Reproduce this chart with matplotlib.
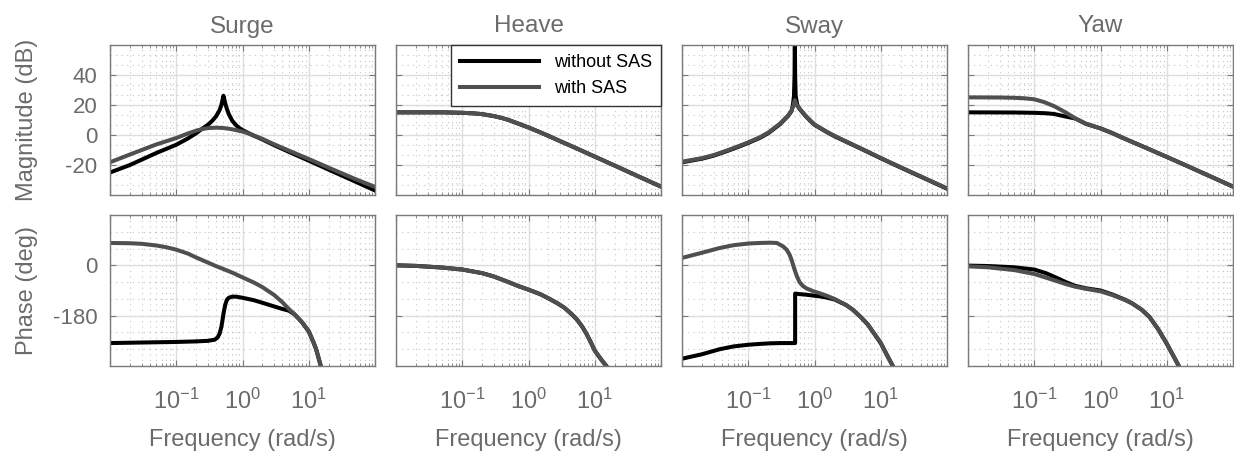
import matplotlib
matplotlib.use('Agg')
import matplotlib.pyplot as plt
from matplotlib.ticker import (FixedLocator, FixedFormatter, LogLocator,
                               MultipleLocator, NullFormatter)

plt.rcParams['font.family'] = ['Liberation Sans', 'DejaVu Sans']
plt.rcParams['axes.unicode_minus'] = False

TITLES = ['Surge', 'Heave', 'Sway', 'Yaw']
LABELS = ['without SAS', 'with SAS']

# ---- Surge ----
surge_mag_wo_w = [0.01, 0.02, 0.05, 0.1, 0.15, 0.2, 0.25, 0.3, 0.35, 0.4, 0.45,
                  0.48, 0.5, 0.515, 0.53, 0.55, 0.58, 0.62, 0.7, 0.8, 0.9, 1.0,
                  1.2, 1.41, 2, 3, 5, 10, 20, 50, 100]
surge_mag_wo = [-25, -20, -12, -6.5, -2.3, 1.2, 4.4, 6.8, 9.5, 12.5, 16.5,
                20, 23.5, 26.2, 24, 21, 17.5, 14, 9.5, 6.5, 4.6, 3.3,
                1.5, 0, -3, -6.8, -11.2, -17.1, -23.1, -31, -37]
surge_mag_w_w = [0.01, 0.02, 0.05, 0.1, 0.15, 0.2, 0.25, 0.3, 0.4, 0.5, 0.6,
                 0.7, 0.85, 1.0, 1.2, 1.41, 2, 3, 5, 10, 20, 50, 100]
surge_mag_w = [-18.2, -13, -6.3, -2, 1, 2.9, 4, 4.6, 4.9, 4.7, 4.3,
               3.8, 3, 2.3, 1.2, 0, -2.6, -6.2, -10.4, -16, -21.8, -29.3, -34.6]
surge_ph_wo_w = [0.01, 0.03, 0.1, 0.2, 0.3, 0.38, 0.42, 0.45, 0.48, 0.5, 0.52,
                 0.55, 0.58, 0.62, 0.7, 0.8, 1, 1.5, 2, 3, 4, 5, 6, 7, 8, 10,
                 12, 13, 15.2, 17]
surge_ph_wo = [-278, -276, -274, -272, -270, -266, -258, -245, -220, -195, -168,
               -140, -124, -116, -112, -112, -116, -125, -134, -147, -156, -162,
               -174, -190, -205, -236, -280, -302, -360, -400]
surge_ph_w_w = [0.01, 0.02, 0.03, 0.05, 0.07, 0.1, 0.15, 0.2, 0.3, 0.4, 0.5,
                0.7, 1, 1.5, 2, 3, 4, 5, 6, 7, 8, 10, 12, 13, 15.2, 17]
surge_ph_w = [80, 79, 77, 71, 65, 56, 42, 28, 10, -3, -12,
              -26, -43, -62, -78, -106, -132, -156, -173, -190, -205, -236,
              -280, -302, -360, -400]

# ---- Heave (both curves coincide) ----
heave_mag_w = [0.01, 0.05, 0.1, 0.15, 0.2, 0.3, 0.4, 0.5, 0.7, 1, 1.5, 2, 3,
               5, 10, 20, 50, 100]
heave_mag = [15.1, 15.1, 14.8, 14.4, 13.9, 12.6, 11.3, 10, 7.6, 5, 1.8, -0.6,
             -4.1, -8.4, -14.4, -20.4, -28.4, -34.4]
heave_ph_w = [0.01, 0.02, 0.05, 0.1, 0.2, 0.3, 0.5, 0.7, 1, 1.5, 2, 2.7, 3.5,
              4.5, 5.4, 6.5, 7.5, 8.6, 10, 11.5, 13, 15, 17]
heave_ph = [0, -2, -8, -15, -28, -40, -60, -74, -87, -103, -118, -135, -152,
            -175, -194, -220, -245, -272, -305, -325, -342, -360, -390]

# ---- Sway ----
sway_mag_w_w = [0.01, 0.02, 0.03, 0.05, 0.07, 0.1, 0.15, 0.2, 0.3, 0.4, 0.45,
                0.48, 0.5, 0.505, 0.51, 0.53, 0.56, 0.6, 0.72, 0.85, 1, 1.5,
                2, 5, 10, 20, 50, 100]
sway_mag_w = [-17.8, -15.4, -13.4, -10, -7.6, -4.9, -1.5, 1.6, 7.5, 13, 16.3,
              19.5, 22.5, 23.3, 22.5, 20.5, 19, 17.3, 13.3, 10, 7, 2.4,
              -0.6, -8.9, -15.3, -21.5, -29.5, -35.6]
sway_mag_wo_w = [0.01, 0.02, 0.03, 0.05, 0.07, 0.1, 0.15, 0.2, 0.3, 0.4, 0.45,
                 0.47, 0.49, 0.5, 0.505, 0.51, 0.52, 0.55, 0.6, 0.72, 0.85, 1,
                 1.5, 2, 5, 10, 20, 50, 100]
sway_mag_wo = [-18.2, -15.8, -13.8, -10.4, -8, -5.3, -1.9, 1.2, 7.1, 12.7, 16,
               19.6, 26, 40, 70, 40, 26, 20, 17.2, 13, 9.8, 6.8,
               2.2, -0.8, -9.1, -15.5, -21.7, -29.7, -35.8]
sway_ph_w_w = [0.01, 0.02, 0.037, 0.06, 0.1, 0.15, 0.21, 0.27, 0.334, 0.38,
               0.421, 0.45, 0.5, 0.54, 0.595, 0.67, 0.75, 0.944, 1.2, 1.5, 2,
               3, 3.8, 5, 6.4, 8, 10, 13, 15.2, 17]
sway_ph_w = [26.5, 45, 62, 72, 78, 80, 81, 80, 68, 56,
             38, 20, -15, -38, -60, -74, -82, -92, -100, -108, -120,
             -142, -159, -185, -212, -245, -278, -330, -360, -390]
sway_ph_wo_w = [0.01, 0.02, 0.037, 0.06, 0.1, 0.15, 0.21, 0.3, 0.51, 0.51,
                0.6, 0.75, 0.944, 1.2, 1.5, 2, 3, 3.8, 5, 6.4, 8, 10, 13, 15.2,
                17]
sway_ph_wo = [-334, -318, -300, -290, -284, -281, -279, -278, -278, -101,
              -103, -105, -108, -111, -115, -122, -142, -159, -185, -212, -245,
              -278, -330, -360, -390]

# ---- Yaw ----
yaw_mag_w_w = [0.01, 0.03, 0.05, 0.07, 0.1, 0.14, 0.2, 0.3, 0.415, 0.6, 1, 1.5,
               2, 3, 5, 10, 20, 50, 100]
yaw_mag_w = [25.1, 25, 24.8, 24.5, 23.8, 22, 19.2, 15, 11.1, 7.5, 4.4, 1.3,
             -1.2, -4.6, -8.8, -14.6, -20.5, -28.4, -34.4]
yaw_mag_wo_w = [0.01, 0.05, 0.1, 0.15, 0.2, 0.29, 0.415, 0.6, 1, 1.5, 2, 3, 5,
                10, 20, 50, 100]
yaw_mag_wo = [15.1, 15, 14.8, 14.5, 14, 12.4, 11, 7.5, 4.4, 1.3, -1.2, -4.6,
              -8.8, -14.6, -20.5, -28.4, -34.4]
yaw_ph_wo_w = [0.01, 0.02, 0.05, 0.1, 0.15, 0.21, 0.3, 0.41, 0.6, 1, 1.5,
               2.35, 3, 4.2, 5.5, 7.5, 10, 13, 15.2, 17]
yaw_ph_wo = [-1, -2.5, -7, -15, -28, -43, -60, -73, -82, -90, -104,
             -123, -136, -159, -185, -230, -280, -330, -360, -390]
yaw_ph_w_w = [0.01, 0.02, 0.05, 0.1, 0.15, 0.21, 0.3, 0.41, 0.6, 1, 1.5, 2.35,
              3, 4.2, 5.5, 7.5, 10, 13, 15.2, 17]
yaw_ph_w = [-3.6, -7, -17, -31, -44, -55, -67, -76, -84, -93, -106, -124,
            -136, -159, -185, -230, -280, -330, -360, -390]

MAG = [
    ((surge_mag_wo_w, surge_mag_wo), (surge_mag_w_w, surge_mag_w)),
    ((heave_mag_w, heave_mag), (heave_mag_w, heave_mag)),
    ((sway_mag_wo_w, sway_mag_wo), (sway_mag_w_w, sway_mag_w)),
    ((yaw_mag_wo_w, yaw_mag_wo), (yaw_mag_w_w, yaw_mag_w)),
]
PHASE = [
    ((surge_ph_wo_w, surge_ph_wo), (surge_ph_w_w, surge_ph_w)),
    ((heave_ph_w, heave_ph), (heave_ph_w, heave_ph)),
    ((sway_ph_wo_w, sway_ph_wo), (sway_ph_w_w, sway_ph_w)),
    ((yaw_ph_wo_w, yaw_ph_wo), (yaw_ph_w_w, yaw_ph_w)),
]

W, H = 1234, 454
LEFTS = [110, 396, 682, 968]
AX_W = 265
TOP_ROW = (45, 195)
BOT_ROW = (215, 366)

TEXT_C = '#6b6b6b'
FRAME_C = '#7a7a7a'
COLORS = ['#000000', '#4f4f4f']


def style_axes(ax, bottom_row, first_col):
    ax.set_xscale('log')
    ax.set_xlim(1e-2, 1e2)
    ax.xaxis.set_major_locator(FixedLocator([1e-2, 1e-1, 1, 10, 100]))
    ax.xaxis.set_minor_locator(LogLocator(base=10, subs=range(2, 10), numticks=20))
    ax.xaxis.set_minor_formatter(NullFormatter())
    if bottom_row:
        ax.xaxis.set_major_formatter(FixedFormatter(
            ['', r'$\mathdefault{10^{-1}}$', r'$\mathdefault{10^{0}}$',
             r'$\mathdefault{10^{1}}$', '']))
        ax.set_xlabel('Frequency (rad/s)', fontsize=17, color=TEXT_C, labelpad=11)
        ax.set_ylim(-360, 180)
        ax.yaxis.set_major_locator(FixedLocator([-180, 0]))
        ax.yaxis.set_minor_locator(MultipleLocator(60))
    else:
        ax.xaxis.set_major_formatter(NullFormatter())
        ax.set_ylim(-40, 60)
        ax.yaxis.set_major_locator(FixedLocator([-20, 0, 20, 40]))
        ax.yaxis.set_minor_locator(MultipleLocator(20 / 3))
    if not first_col:
        ax.yaxis.set_major_formatter(NullFormatter())
    ax.tick_params(axis='both', which='major', direction='in', length=4,
                   color=FRAME_C, labelcolor=TEXT_C, labelsize=16,
                   top=True, right=True)
    ax.tick_params(axis='x', which='major', pad=16, labelsize=17)
    ax.tick_params(axis='y', which='major', pad=9)
    ax.tick_params(axis='x', which='minor', direction='in', length=2.5,
                   color=FRAME_C, top=True, bottom=True)
    ax.tick_params(axis='y', which='minor', length=0)
    for s in ax.spines.values():
        s.set_color(FRAME_C)
        s.set_linewidth(1.0)
    ax.set_axisbelow(True)
    ax.grid(True, which='major', color='#dedede', lw=1.0, ls='-')
    ax.grid(True, which='minor', color='#c4c4c4', lw=0.8, ls=(0, (1, 4)))


fig = plt.figure(figsize=(W / 100, H / 100), dpi=100)

for c in range(4):
    for r, (rows, data) in enumerate([(TOP_ROW, MAG), (BOT_ROW, PHASE)]):
        y0, y1 = rows
        ax = fig.add_axes([LEFTS[c] / W, 1 - y1 / H, AX_W / W, (y1 - y0) / H])
        handles = []
        for k, (wv, vals) in enumerate(data[c]):
            ln, = ax.plot(wv, vals, color=COLORS[k], lw=2.9, label=LABELS[k],
                          solid_joinstyle='round')
            handles.append(ln)
        style_axes(ax, r == 1, c == 0)
        if r == 0:
            ax.set_title(TITLES[c], fontsize=17.5, color=TEXT_C, pad=9)
        if c == 0:
            ax.set_ylabel('Magnitude (dB)' if r == 0 else 'Phase (deg)',
                          fontsize=17, color=TEXT_C)
            ax.yaxis.set_label_coords(-0.27, 0.5)
        if r == 0 and c == 1:
            leg = ax.legend(handles=handles, loc='upper right',
                            borderaxespad=0, fontsize=13, handlelength=4.4,
                            frameon=True, fancybox=False, framealpha=1,
                            edgecolor='#333333', labelspacing=0.5,
                            borderpad=0.5)
            leg.get_frame().set_linewidth(1.0)

fig.savefig('out.png', dpi=100)
